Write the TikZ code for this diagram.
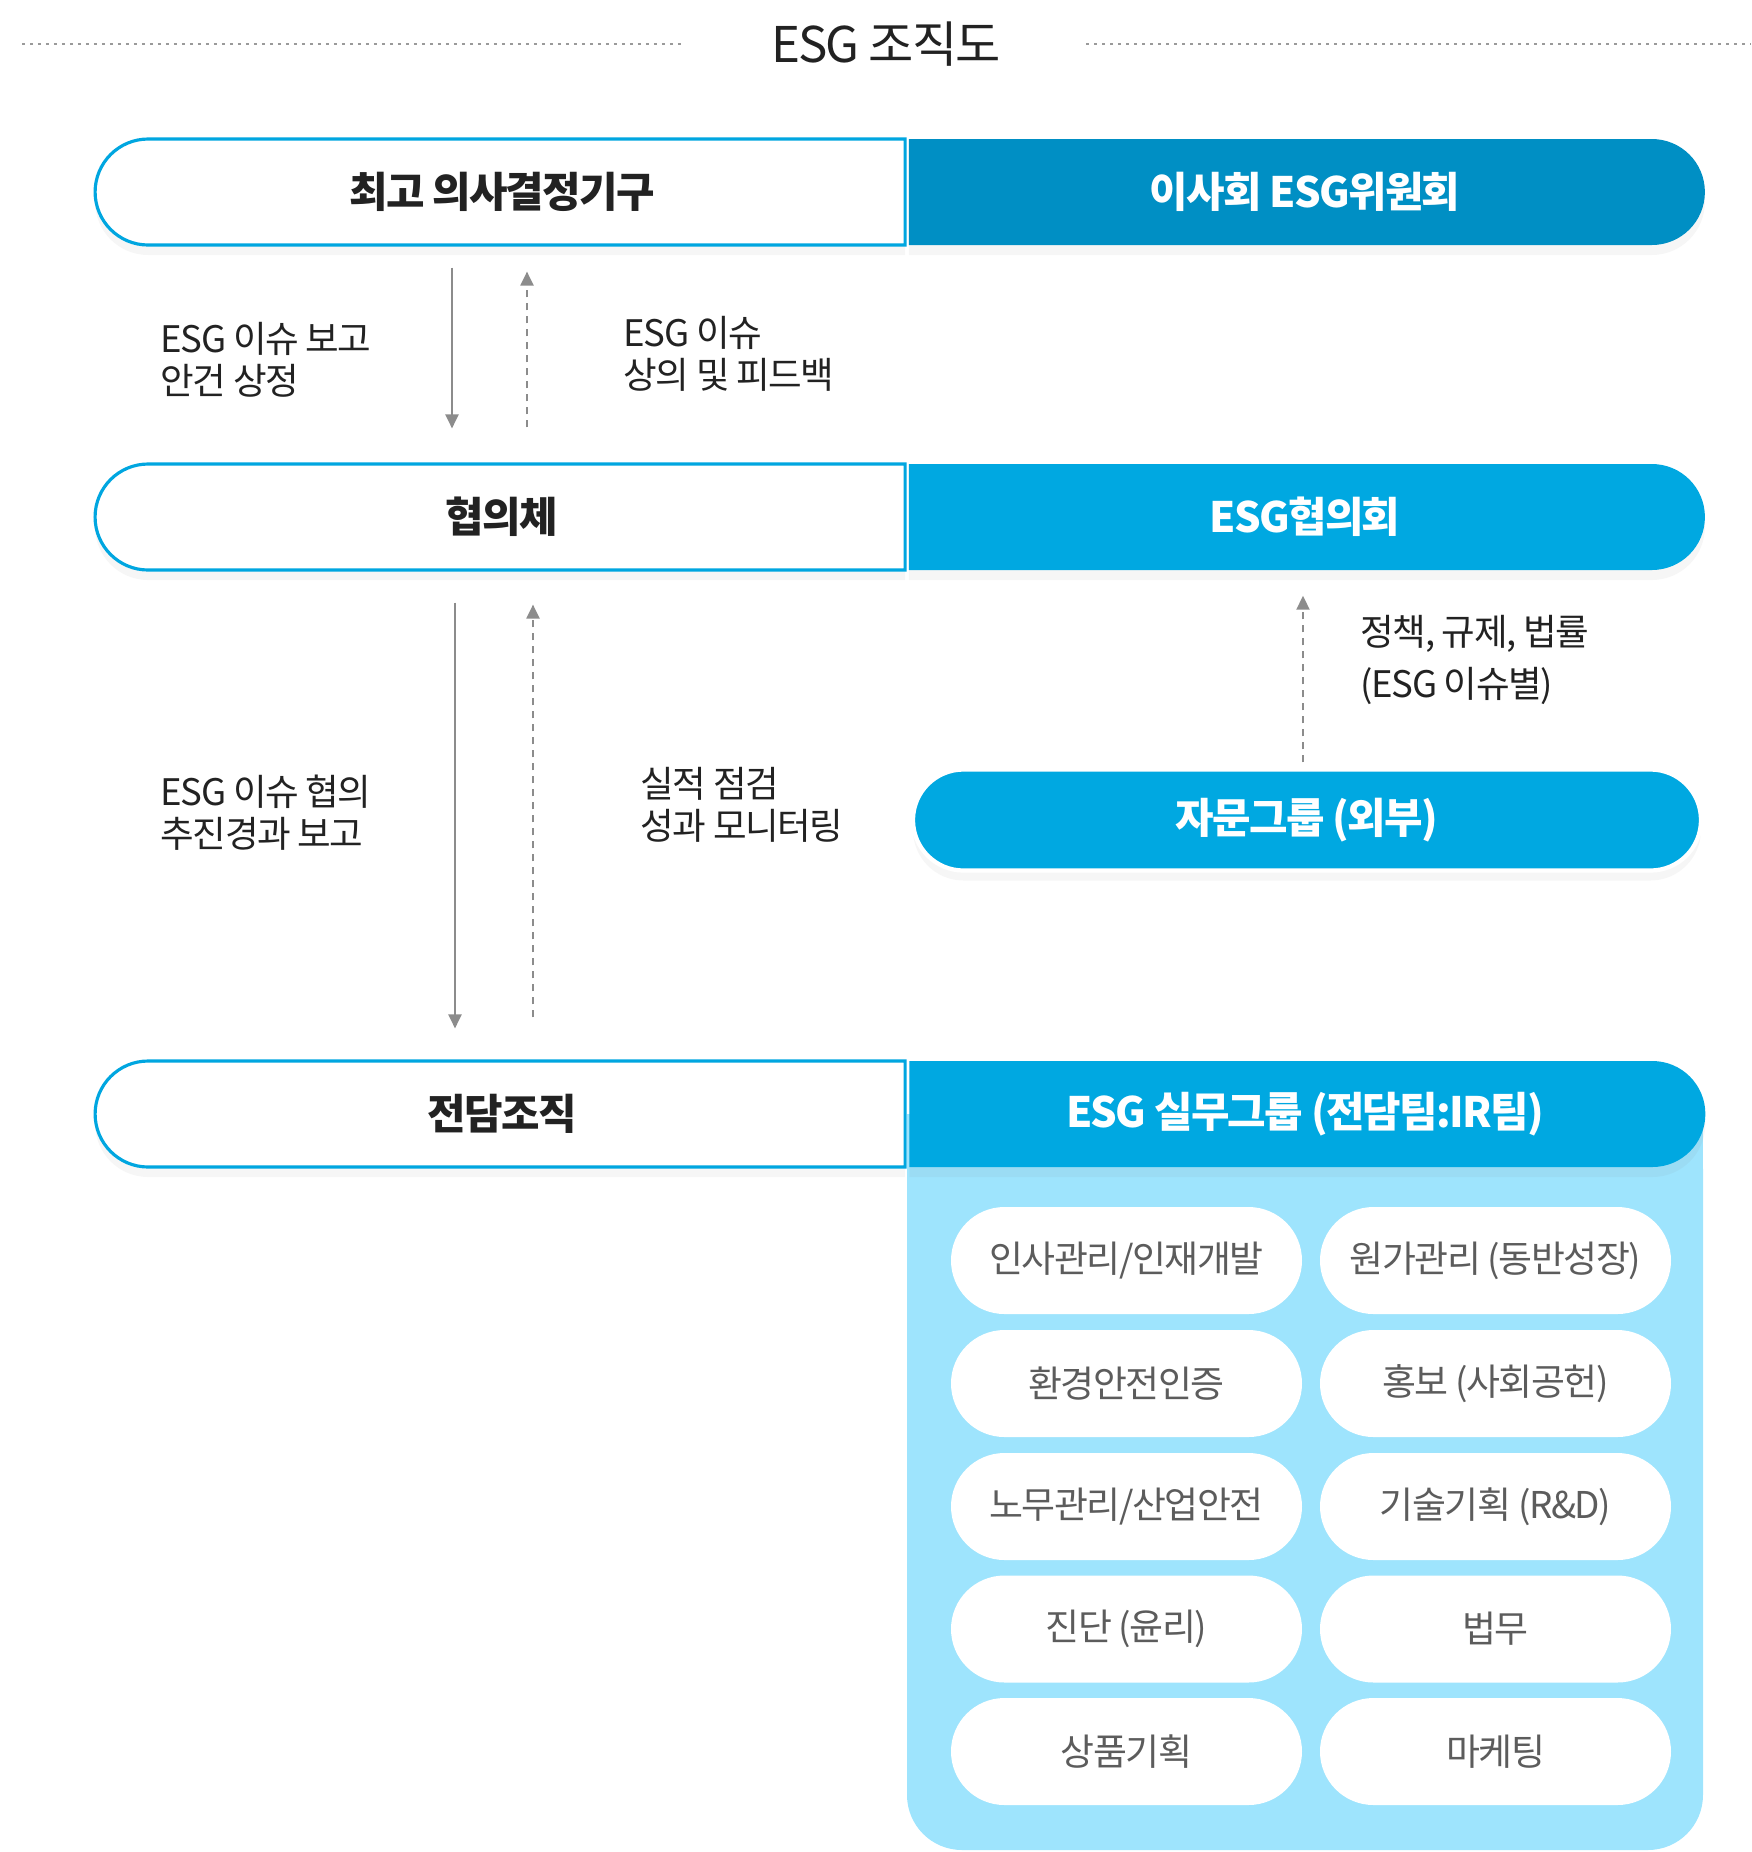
\documentclass[tikz,border=0pt]{standalone}
\usepackage{fontspec}
\setmainfont{Noto Sans CJK KR}[LetterSpace=-4]
\usetikzlibrary{shapes.misc,arrows.meta,shadows}
\definecolor{esgline}{HTML}{00A6E0}
\definecolor{esgdark}{HTML}{008FC4}
\definecolor{esgblue}{HTML}{00A8E1}
\definecolor{esgpale}{HTML}{9EE4FD}
\definecolor{ink}{HTML}{222222}
\definecolor{inkgray}{HTML}{5C5C5C}
\definecolor{flowgray}{HTML}{8C8C8C}
\definecolor{rulegray}{HTML}{9A9A9A}
\begin{document}
\begin{tikzpicture}[
      tier/.style={rounded rectangle, minimum height=10.6mm, inner sep=0pt,
        font=\fontsize{11.9pt}{14pt}\selectfont\bfseries,
        drop shadow={shadow xshift=0mm, shadow yshift=-1mm, opacity=0.07}},
      tierleft/.style={tier, rounded rectangle right arc=none, minimum width=81mm,
        draw=esgline, line width=0.9pt, fill=white, text=ink},
      tierright/.style={tier, rounded rectangle left arc=none, minimum width=79.6mm,
        text=white},
      duty/.style={rounded rectangle, fill=white, minimum width=35.1mm, minimum height=10.7mm,
        inner sep=0pt, text=inkgray, font=\fontsize{10.5pt}{12pt}\selectfont},
      note/.style={anchor=west, align=left, inner sep=0pt, text=ink,
        font=\fontsize{10.4pt}{11.9pt}\selectfont},
      flow/.style={draw=flowgray, line width=0.6pt, -{Triangle[length=1.4mm, width=1.3mm]}},
      flowdash/.style={flow, dash pattern=on 0.7mm off 0.6mm}]
      \useasboundingbox (0,0) rectangle (17.51,-18.52);
      \node[font=\fontsize{14pt}{16pt}\selectfont, text=ink, inner xsep=8.5mm] (title) at (8.86,-0.44) {ESG 조직도};
      \coordinate (ruleL) at (0.22,-0.44);
      \coordinate (ruleR) at (17.51,-0.44);
      \draw[rulegray, line width=0.6pt, dash pattern=on 0.3mm off 0.5mm] (ruleL) -- (title) (title) -- (ruleR);

      \fill[esgpale, rounded corners=5.5mm] (9.07,-11.14) rectangle (17.03,-18.50);
      \fill[esgpale] (9.07,-11.14) rectangle (17.03,-12.2);

      \node[tierleft] (board) at (5.02,-1.92) {최고 의사결정기구};
      \node[tierright, fill=esgdark] (boardesg) at (13.05,-1.92) {이사회 ESG위원회};
      \node[tierleft] (council) at (5.02,-5.17) {협의체};
      \node[tierright, fill=esgblue] (councilesg) at (13.05,-5.17) {ESG협의회};
      \node[tierleft] (office) at (5.02,-11.14) {전담조직};
      \node[tierright, fill=esgblue] (officeesg) at (13.05,-11.14) {ESG 실무그룹 (전담팀:IR팀)};
      \node[tier, fill=esgblue, draw=white, line width=1.2pt, text=white,
        minimum width=78.8mm, minimum height=10.1mm] (advisory) at (13.07,-8.20) {자문그룹 (외부)};

      \node[duty] (hr) at (11.265,-12.605) {인사관리/인재개발};
      \node[duty] (cost) at (14.955,-12.605) {원가관리 (동반성장)};
      \node[duty] (env) at (11.265,-13.835) {환경안전인증};
      \node[duty] (pr) at (14.955,-13.835) {홍보 (사회공헌)};
      \node[duty] (labor) at (11.265,-15.065) {노무관리/산업안전};
      \node[duty] (rnd) at (14.955,-15.065) {기술기획 (R\&D)};
      \node[duty] (audit) at (11.265,-16.29) {진단 (윤리)};
      \node[duty] (legal) at (14.955,-16.29) {법무};
      \node[duty] (product) at (11.265,-17.515) {상품기획};
      \node[duty] (marketing) at (14.955,-17.515) {마케팅};

      \coordinate (downA) at (4.52,0);
      \coordinate (upA) at (5.27,0);
      \coordinate (downB) at (4.55,0);
      \coordinate (upB) at (5.33,0);
      \coordinate (upC) at (13.03,0);
      \draw[flow, shorten <=2.1mm, shorten >=3.4mm] (board.south -| downA) -- (council.north -| downA);
      \draw[flowdash, shorten <=3.5mm, shorten >=2.5mm] (council.north -| upA) -- (board.south -| upA);
      \draw[flow, shorten <=3.1mm, shorten >=3.1mm] (council.south -| downB) -- (office.north -| downB);
      \draw[flowdash, shorten <=4.2mm, shorten >=3.3mm] (office.north -| upB) -- (council.south -| upB);
      \draw[flowdash, shorten <=0.5mm, shorten >=2.5mm] (advisory.north -| upC) -- (councilesg.south -| upC);

      \node[note] (reportA) at (1.60,-3.60) {ESG 이슈 보고\\안건 상정};
      \node[note] (feedbackA) at (6.23,-3.54) {ESG 이슈\\상의 및 피드백};
      \node[note] (reportB) at (1.60,-8.13) {ESG 이슈 협의\\추진경과 보고};
      \node[note] (feedbackB) at (6.40,-8.05) {실적 점검\\성과 모니터링};
      \node[note, font=\fontsize{10.4pt}{15pt}\selectfont] (law) at (13.60,-6.60) {정책, 규제, 법률\\(ESG 이슈별)};
\end{tikzpicture}
\end{document}
